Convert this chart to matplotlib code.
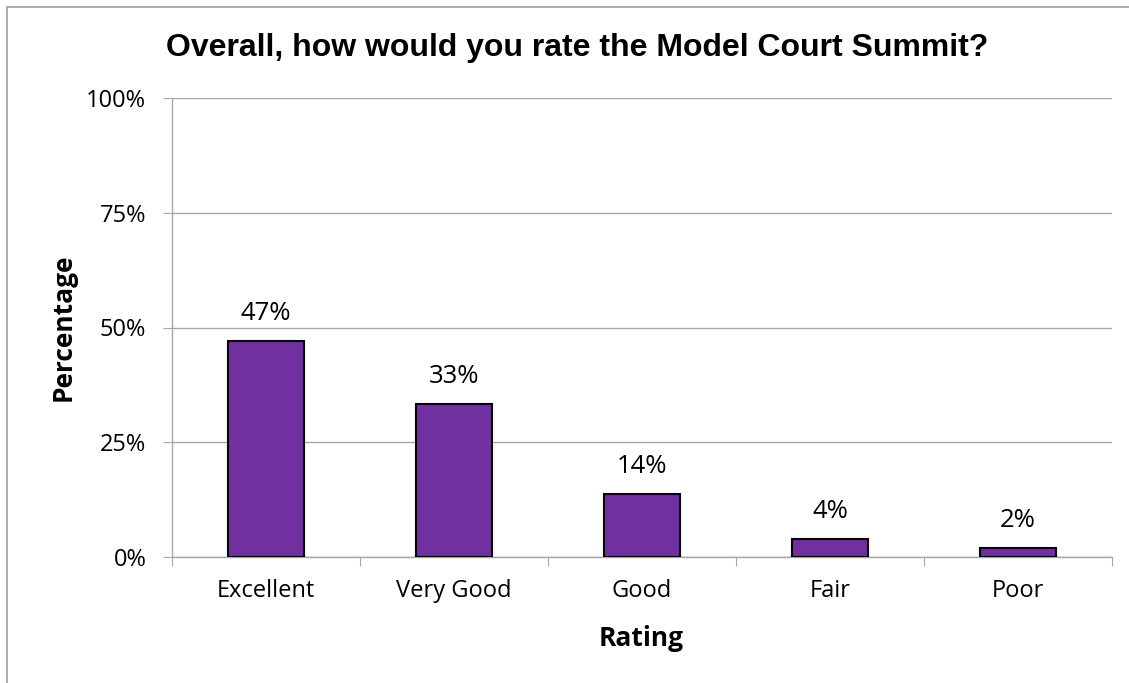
import matplotlib.pyplot as plt
from matplotlib.patches import Rectangle

# Survey results
categories = ["Excellent", "Very Good", "Good", "Fair", "Poor"]
percentages = [47.1, 33.3, 13.7, 3.9, 2.0]
y_ticks = [0, 25, 50, 75, 100]
y_tick_labels = ["0%", "25%", "50%", "75%", "100%"]

bar_color = "#7030A0"
grid_color = "#A6A6A6"
body_font = ["Open Sans", "DejaVu Sans"]

W, H = 1129, 683
fig = plt.figure(figsize=(W / 100, H / 100), dpi=100)
ax = fig.add_axes([172 / W, 1 - 557 / H, (1112 - 172) / W, (557 - 98) / H])

x = list(range(len(categories)))
ax.bar(x, percentages, width=0.4, color=bar_color, edgecolor="black",
       linewidth=1.5, zorder=3)

for xi, v in zip(x, percentages):
    ax.text(xi, v + 6.0, f"{v:.0f}%", ha="center", va="center",
            fontsize=18.5, family=body_font)

ax.set_xlim(-0.5, len(categories) - 0.5)
ax.set_ylim(0, 100)
ax.set_yticks(y_ticks)
ax.set_yticklabels(y_tick_labels, family=body_font, fontsize=17)
ax.yaxis.grid(True, color=grid_color, linewidth=1, zorder=0)

# category labels sit between the boundary ticks
ax.set_xticks([i - 0.5 for i in range(len(categories) + 1)])
ax.set_xticklabels([])
ax.set_xticks(x, minor=True)
ax.set_xticklabels(categories, minor=True, family=body_font, fontsize=17)
ax.tick_params(axis="x", which="minor", length=0, pad=16)
ax.tick_params(axis="x", which="major", length=6.5, color=grid_color)
ax.tick_params(axis="y", length=6.5, color=grid_color, pad=12)

for side in ["top", "right"]:
    ax.spines[side].set_visible(False)
for side in ["left", "bottom"]:
    ax.spines[side].set_color(grid_color)
    ax.spines[side].set_linewidth(1)

fig.text(63 / W, 1 - 327 / H, "Percentage", rotation=90, ha="center",
         va="center", fontsize=19, fontweight="bold", family=body_font)
fig.text(641 / W, 1 - 639 / H, "Rating", ha="center", va="center",
         fontsize=19, fontweight="bold", family=body_font)
fig.text(577 / W, 1 - 48 / H, "Overall, how would you rate the Model Court Summit?",
         ha="center", va="center", fontsize=23, fontweight="bold",
         family=["Liberation Sans", "DejaVu Sans"])

# chart area border
fig.patches.append(Rectangle((7 / W, -0.05), 1.2, 1 - 7 / H + 0.05,
                             transform=fig.transFigure, fill=False,
                             edgecolor="#A0A0A0", linewidth=1.2))

fig.savefig("out.png", dpi=100)
